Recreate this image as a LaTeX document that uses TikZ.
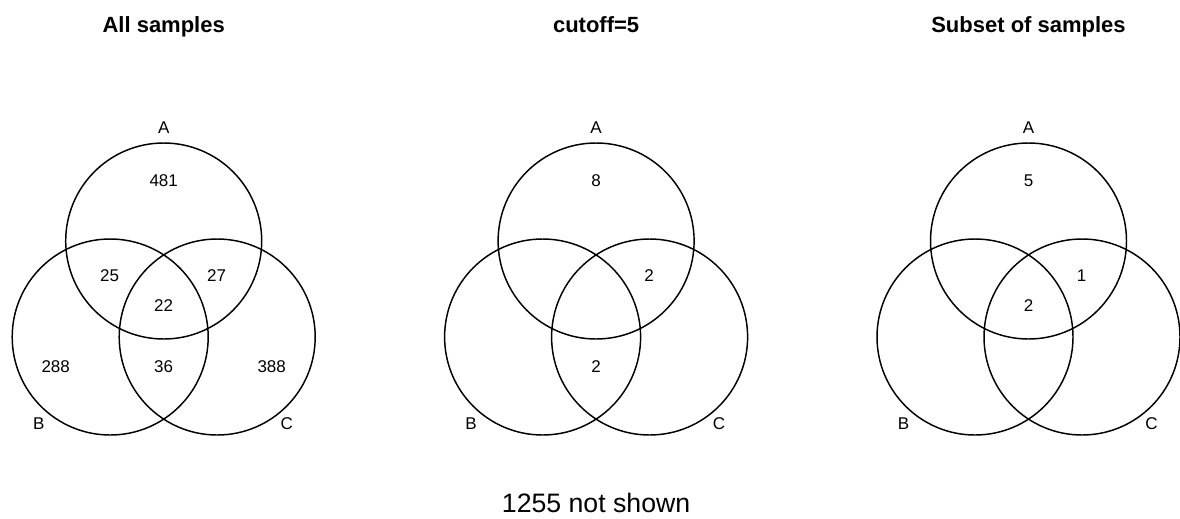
\documentclass[tikz,border=0pt]{standalone}
\usepackage{fontspec}
\setmainfont{Liberation Sans}
\tikzset{
  vcircle/.style={draw=black, line width=1.1pt, circle, minimum size=147pt, inner sep=0pt, outer sep=0pt},
  num/.style={font=\fontsize{12.75}{15}\selectfont, inner sep=0pt},
  setlab/.style={font=\fontsize{12.75}{15}\selectfont, inner sep=0pt},
  paneltitle/.style={font=\fontsize{16.5}{19}\selectfont\bfseries, anchor=base, inner sep=0pt},
  bottomnote/.style={font=\fontsize{20}{24}\selectfont, anchor=base, inner sep=0pt}
}
\begin{document}
\begin{tikzpicture}[x=0.75pt, y=-0.75pt]
\useasboundingbox (0,0) rectangle (1180,518);
% Panel 1
\node[paneltitle] (t1) at (163.7,32.5) {All samples};
\node[vcircle] (p1A) at (163.7,241) {};
\node[vcircle] (p1B) at (110.2,337) {};
\node[vcircle] (p1C) at (217.2,337) {};
\node[setlab] (l1A) at (163.7,128) {A};
\node[setlab] (l1B) at (38.7,424) {B};
\node[setlab] (l1C) at (286.7,424) {C};
\node[num] (n1a) at (163.7,181) {481};
\node[num] (n1ab) at (109.7,276) {25};
\node[num] (n1ac) at (216.7,276) {27};
\node[num] (n1abc) at (163.7,306) {22};
\node[num] (n1b) at (55.7,367) {288};
\node[num] (n1bc) at (163.7,367) {36};
\node[num] (n1c) at (271.7,367) {388};
% Panel 2
\node[paneltitle] (t2) at (596.1,32.5) {cutoff=5};
\node[vcircle] (p2A) at (596.1,241) {};
\node[vcircle] (p2B) at (542.6,337) {};
\node[vcircle] (p2C) at (649.6,337) {};
\node[setlab] (l2A) at (596.1,128) {A};
\node[setlab] (l2B) at (471.1,424) {B};
\node[setlab] (l2C) at (719.1,424) {C};
\node[num] (n2a) at (596.1,181) {8};
\node[num] (n2ac) at (649.1,276) {2};
\node[num] (n2bc) at (596.1,367) {2};
% Panel 3
\node[paneltitle] (t3) at (1028.5,32.5) {Subset of samples};
\node[vcircle] (p3A) at (1028.5,241) {};
\node[vcircle] (p3B) at (975,337) {};
\node[vcircle] (p3C) at (1082,337) {};
\node[setlab] (l3A) at (1028.5,128) {A};
\node[setlab] (l3B) at (903.5,424) {B};
\node[setlab] (l3C) at (1151.5,424) {C};
\node[num] (n3a) at (1028.5,181) {5};
\node[num] (n3ac) at (1081.5,276) {1};
\node[num] (n3abc) at (1028.5,306) {2};
% Bottom note
\node[bottomnote] (note) at (596.1,512) {1255 not shown};
\end{tikzpicture}
\end{document}
